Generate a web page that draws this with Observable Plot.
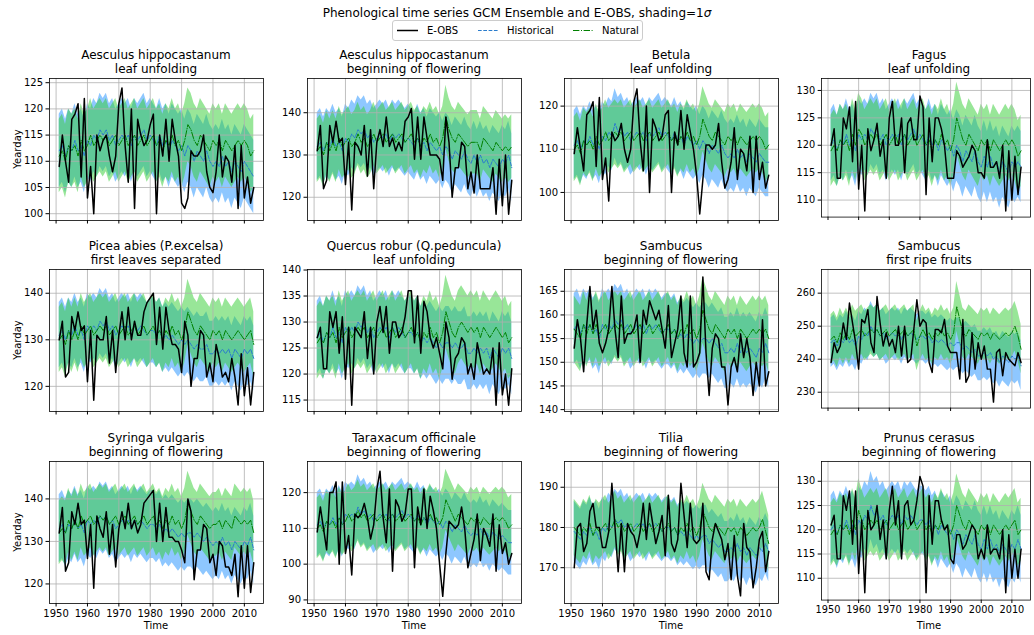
<!DOCTYPE html>
<html><head><meta charset="utf-8">
<script src="https://cdn.jsdelivr.net/npm/d3@7"></script>
<script src="https://cdn.jsdelivr.net/npm/@observablehq/plot@0.6"></script>
<style>
body{margin:0;background:#fff;font-family:"DejaVu Sans",sans-serif;}
#fig{position:relative;width:1034px;height:635px;overflow:hidden;background:#fff;}
.ptitle{position:absolute;text-align:center;font-size:12px;line-height:14px;color:#000;white-space:nowrap;}
.lab{position:absolute;font-size:10px;color:#000;white-space:nowrap;}
.panel{position:absolute;}
#suptitle{position:absolute;left:0;width:1034px;top:6px;text-align:center;font-size:12px;}
</style></head><body><div id="fig"></div>
<script>
// ---------- data ----------
const years = d3.range(1951, 2014);

const panelTitles = [
  ["Aesculus hippocastanum", "leaf unfolding"],
  ["Aesculus hippocastanum", "beginning of flowering"],
  ["Betula", "leaf unfolding"],
  ["Fagus", "leaf unfolding"],
  ["Picea abies (P.excelsa)", "first leaves separated"],
  ["Quercus robur (Q.peduncula)", "leaf unfolding"],
  ["Sambucus", "beginning of flowering"],
  ["Sambucus", "first ripe fruits"],
  ["Syringa vulgaris", "beginning of flowering"],
  ["Taraxacum officinale", "beginning of flowering"],
  ["Tilia", "beginning of flowering"],
  ["Prunus cerasus", "beginning of flowering"]
];
const legendLabels = ["E-OBS", "Historical", "Natural"];

const yTicks = [
  [100,105,110,115,120,125],[120,130,140],[100,110,120],[110,115,120,125,130],
  [120,130,140],[115,120,125,130,135,140],[140,145,150,155,160,165],[230,240,250,260],
  [120,130,140],[90,100,110,120],[170,180,190],[110,115,120,125,130]
];
const xTicks = [1950,1960,1970,1980,1990,2000,2010];

// E-OBS observed series
const eobsAesculusLeaf = [109,115,110,106,118,119,121,107,122,103, 109,100,115,112,114,115,111,108,111,121, 124,113,106,120,101,118,115,113,114,117, 119,100,115,111,118,110,118,114,111,102, 101,103,112,111,111,112,115,108,105,104, 108,115,107,111,110,106,113,101,113,103, 107,102,105];
const eobsAesculusFlower = [131,137,122,124,137,133,138,133,134,123, 133,117,133,132,130,137,125,136,122,133, 136,132,139,132,134,131,133,131,138,139, 141,129,139,129,139,134,130,130,130,129, 124,139,133,120,127,127,133,132,122,126, 121,130,122,122,122,122,127,116,129,118, 130,116,124];
const eobsBetula = [109,115,110,105,118,119,121,106,122,103, 108,98,114,112,113,116,110,107,110,121, 124,112,105,120,100,117,115,112,113,118, 119,100,114,111,119,110,118,114,110,104, 95,103,111,111,110,111,116,107,101,103, 107,115,103,110,109,105,113,100,113,103, 107,101,104];
const eobsFagus = [120,123,114,114,125,123,127,117,128,112, 120,108,123,119,121,124,118,121,114,125, 128,120,120,125,115,124,125,121,121,129, 127,111,125,117,125,125,123,120,114,114, 114,119,118,116,117,118,120,119,115,115, 114,121,116,116,117,114,120,108,119,110, 118,111,116];
const eobsPicea = [130,134,122,123,135,132,136,132,133,121, 132,117,131,130,130,135,125,132,123,131, 136,130,137,130,134,131,131,136,138,139, 140,129,137,128,137,132,129,129,128,123, 134,131,120,126,126,132,131,122,125,121, 129,126,122,123,121,126,122,116,127,118, 124,116,123];
const eobsQuercus = [127,129,121,121,132,129,132,124,131,119, 129,114,129,128,127,132,123,129,120,130, 133,128,133,124,130,130,127,128,131,136, 136,126,135,124,134,132,127,125,127,124, 121,130,127,119,123,124,127,126,120,122, 119,126,123,120,121,120,125,114,126,116, 120,114,121];
const eobsSambucusFlower = [153,159,155,148,158,166,157,161,154,152, 154,157,166,157,151,164,154,156,156,157, 160,150,161,158,163,161,159,161,157,153, 162,151,154,157,164,152,149,164,149,150, 152,168,152,143,153,156,155,149,149,141, 149,151,148,156,151,155,151,143,150,145, 159,145,148];
const eobsSambucusFruit = [239,245,242,244,251,246,257,251,245,237, 252,251,255,245,242,259,251,244,248,244, 246,242,250,241,250,239,240,249,258,250, 252,251,239,236,249,249,248,252,244,242, 242,242,234,252,233,235,248,237,245,240, 244,237,237,227,242,243,235,242,240,239, 238,242,239];
const eobsSyringa = [132,138,123,125,137,134,139,134,135,126, 134,119,136,133,131,137,127,134,124,133, 137,133,139,133,135,132,134,139,140,141, 142,130,139,130,138,131,131,130,130,128, 125,140,137,121,128,128,134,133,125,127, 122,130,129,124,124,122,127,117,129,119, 129,118,125];
const eobsTaraxacum = [109,116,110,104,120,120,123,100,123,103, 108,97,114,113,114,117,113,107,111,121, 126,113,106,121,98,118,116,112,114,121, 121,99,116,111,121,110,119,115,110,100, 91,103,112,111,110,111,116,110,99,103, 107,114,101,110,108,105,114,98,111,103, 106,100,103];
const eobsTilia = [170,180,181,174,176,184,186,180,180,175, 175,179,191,180,169,181,169,181,179,178, 175,179,186,177,186,181,176,179,183,173, 188,176,174,177,191,183,175,186,177,176, 177,186,169,167,177,181,179,177,172,176, 167,178,168,163,181,175,174,165,170,177, 179,169,174];
const eobsPrunus = [121,123,114,114,127,124,128,117,128,111, 122,107,124,120,121,125,118,122,114,124, 129,121,126,114,125,126,121,122,126,131, 129,107,127,117,126,126,122,120,121,114, 113,119,119,116,117,119,121,120,114,116, 114,121,115,116,116,114,120,107,119,110, 116,110,116];

// GCM ensemble means, historical forcing
const histAesculusLeaf = [112,113,111,113,112,114,112,113,111,114, 113,115,114,116,115,116,114,115,113,114, 115,114,115,113,115,114,115,116,114,115, 114,113,115,113,114,112,114,113,112,113, 111,113,112,110,112,111,110,112,110,109, 110,109,111,109,110,108,110,109,108,110, 109,108,107];
const histAesculusFlower = [132,133,131,133,132,134,132,133,131,134, 133,135,134,136,135,136,134,135,133,134, 135,134,135,133,135,134,135,134,133,134, 133,132,134,132,133,131,133,132,131,132, 130,132,131,129,131,130,129,131,129,128, 130,128,130,128,129,127,129,128,127,129, 128,130,127];
const histBetula = [111,112,110,112,111,113,111,112,110,113, 112,114,113,116,114,115,113,114,112,113, 114,113,114,112,114,113,114,115,113,114, 113,112,114,112,113,111,113,112,111,112, 110,112,111,109,111,110,109,111,109,108, 109,108,110,108,109,107,109,108,107,109, 108,107,107];
const histFagus = [120,121,119,121,120,122,120,121,119,122, 121,122,121,123,122,123,121,122,120,121, 122,121,122,120,122,121,122,123,121,122, 121,120,122,120,121,119,121,120,119,120, 118,120,119,117,119,118,117,119,117,116, 118,116,118,116,117,115,117,116,115,117, 116,117,116];
const histPicea = [131,132,130,132,131,133,131,132,130,133, 132,133,132,134,133,134,132,133,131,132, 133,132,133,131,133,132,133,132,131,132, 132,131,132,130,131,130,131,130,129,130, 129,130,129,128,129,128,128,129,127,127, 128,127,128,127,128,126,128,127,126,128, 127,128,126];
const histQuercus = [127,128,126,128,127,129,127,128,126,129, 128,129,128,130,129,130,128,129,127,128, 129,128,129,127,129,128,129,128,127,128, 128,127,128,126,127,126,127,126,125,126, 125,126,126,125,126,125,125,126,124,124, 125,124,125,124,125,123,125,124,123,125, 124,125,123];
const histSambucusFlower = [157,158,156,158,157,158,156,157,155,158, 157,158,157,159,158,159,157,158,156,157, 158,157,158,156,158,157,158,157,156,157, 157,156,157,155,156,155,156,155,154,155, 154,155,155,154,155,154,153,154,152,152, 153,152,154,152,153,152,153,152,151,153, 152,154,152];
const histSambucusFruit = [245,246,244,246,245,247,245,246,244,247, 246,248,247,250,248,249,247,248,246,247, 248,247,248,246,248,247,248,247,246,247, 247,246,247,245,246,245,246,245,244,245, 244,245,245,243,244,243,242,243,241,241, 242,241,242,240,241,239,241,240,239,241, 240,241,238];
const histSyringa = [133,134,132,134,133,135,133,134,132,135, 134,135,134,136,135,136,134,135,133,134, 135,134,135,133,135,134,135,134,133,134, 134,133,134,132,133,132,133,132,131,132, 131,132,132,131,132,131,130,131,130,129, 130,129,131,129,130,128,130,129,128,130, 129,131,128];
const histTaraxacum = [111,112,110,112,111,113,111,113,111,114, 113,114,113,116,114,115,113,114,112,113, 114,113,114,112,114,113,114,115,113,114, 113,112,114,112,113,111,113,112,111,112, 110,112,111,109,111,110,109,111,109,108, 109,108,110,108,109,107,109,108,107,108, 107,106,106];
const histTilia = [179,178,177,179,178,180,178,179,177,180, 179,181,180,182,181,182,180,181,179,180, 181,180,181,179,181,180,181,180,179,180, 180,179,180,178,179,178,179,178,177,178, 177,178,178,176,177,176,175,176,174,174, 175,174,176,174,175,173,175,174,173,175, 174,176,174];
const histPrunus = [120,121,119,121,120,122,120,121,119,122, 121,123,122,125,123,124,122,123,121,122, 123,122,123,121,123,122,123,122,121,122, 122,121,122,120,121,119,121,120,119,120, 118,120,119,117,119,118,117,119,117,116, 118,116,118,116,117,115,117,116,115,117, 116,118,116];

// GCM ensemble means, natural forcing only
const natAesculusLeaf = [111,112,110,113,112,113,111,114,112,113, 115,113,114,115,114,115,113,114,115,113, 114,115,113,114,115,113,114,115,113,114, 115,113,114,112,114,113,115,113,114,112, 114,117,116,114,113,115,114,113,112,114, 113,114,112,114,113,112,113,114,113,114, 113,111,112];
const natAesculusFlower = [131,132,130,133,131,133,131,134,132,133, 134,132,133,135,133,134,132,133,135,133, 134,135,133,134,135,133,134,135,133,134, 135,133,134,132,134,133,135,133,134,132, 134,139,136,134,133,135,134,133,132,133, 133,133,131,134,133,132,131,133,132,131, 132,131,132];
const natBetula = [110,111,109,112,111,112,110,113,111,112, 114,112,113,114,113,114,112,113,114,112, 113,114,112,113,114,112,113,114,112,113, 114,112,113,111,113,112,114,112,113,111, 113,117,115,113,112,114,113,112,111,113, 112,113,111,113,112,111,112,113,112,113, 112,110,111];
const natFagus = [119,120,119,121,120,121,119,122,120,123, 122,120,121,122,121,122,120,121,122,120, 121,122,120,121,122,120,121,122,120,121, 122,120,121,119,121,120,122,120,121,119, 121,125,123,121,120,122,121,120,119,121, 120,121,119,121,120,119,120,121,120,121, 120,118,119];
const natPicea = [130,131,129,132,130,132,130,133,131,132, 133,131,132,133,132,133,131,132,133,131, 132,133,131,132,133,131,132,133,131,132, 133,131,132,130,132,131,133,131,132,130, 132,136,134,132,131,133,132,131,130,132, 131,132,130,132,131,130,131,132,131,130, 131,132,129];
const natQuercus = [126,127,126,128,127,128,126,129,127,128, 129,127,128,129,128,129,127,128,129,127, 128,129,127,128,129,127,128,129,127,128, 129,127,128,126,128,127,129,127,128,126, 128,132,130,128,127,129,130,129,128,129, 128,129,127,129,128,127,128,129,128,127, 128,126,127];
const natSambucusFlower = [157,156,155,158,156,158,156,158,156,157, 158,156,157,158,157,158,156,157,158,156, 157,158,156,157,158,156,157,158,156,157, 158,156,157,155,157,156,158,156,157,155, 157,161,159,157,156,158,157,156,155,157, 156,157,155,157,156,155,156,157,156,157, 156,157,155];
const natSambucusFruit = [246,247,245,248,246,248,246,249,247,248, 249,247,248,249,248,249,247,248,249,247, 248,249,247,248,249,247,248,249,244,247, 249,247,248,246,248,247,249,247,248,246, 248,256,252,248,247,249,248,247,246,248, 247,248,246,248,247,246,247,248,247,248, 250,247,243];
const natSyringa = [132,133,132,135,133,135,133,136,134,135, 136,134,135,136,135,136,134,135,136,134, 135,136,134,135,136,134,135,136,134,135, 136,134,135,133,135,134,136,134,135,133, 135,139,137,135,134,136,135,134,133,134, 134,135,133,135,134,133,136,135,134,135, 134,135,132];
const natTaraxacum = [110,111,109,112,111,112,110,113,111,112, 114,112,113,115,113,114,112,113,114,112, 113,114,112,113,114,112,113,114,112,113, 114,112,113,111,113,112,114,112,113,111, 113,118,116,114,112,114,113,112,111,113, 112,113,111,113,112,111,112,113,112,113, 112,110,111];
const natTilia = [180,179,178,180,179,181,178,180,179,180, 181,179,180,182,180,181,179,180,181,179, 180,181,179,180,181,179,180,181,179,180, 181,179,180,178,180,179,181,179,180,178, 180,184,182,180,179,181,180,179,178,180, 179,180,178,180,179,178,179,180,179,180, 182,179,176];
const natPrunus = [119,120,119,121,120,121,119,122,120,124, 122,120,121,122,121,122,120,121,122,120, 121,122,120,121,122,120,121,122,120,121, 122,120,121,119,121,120,122,120,121,119, 121,125,123,121,120,122,121,120,119,121, 120,121,119,121,120,119,120,121,120,121, 122,119,120];

// ensemble spread (1 sigma), [historical, natural]
const sigmaHist = [7, 8, 8, 6.5, 7, 7, 7.5, 7.5, 8, 9, 7.5, 7];
const sigmaNat  = [7, 7.5, 7.5, 6.5, 7, 7, 7, 7.5, 7.5, 8.5, 7, 6.5];

// y extents of each panel
const yDomains = [[98.7,125.8],[114.5,148.1],[93.5,126.4],[106.9,132.2],[114.6,145.1],[112.8,140.1],
                  [139.6,169.6],[225.2,267.2],[115.4,148.8],[89.0,128.7],[161.1,196.4],[105.5,134.1]];

const eobsAll = [eobsAesculusLeaf,eobsAesculusFlower,eobsBetula,eobsFagus,eobsPicea,eobsQuercus,eobsSambucusFlower,eobsSambucusFruit,eobsSyringa,eobsTaraxacum,eobsTilia,eobsPrunus];
const histAll = [histAesculusLeaf,histAesculusFlower,histBetula,histFagus,histPicea,histQuercus,histSambucusFlower,histSambucusFruit,histSyringa,histTaraxacum,histTilia,histPrunus];
const natAll = [natAesculusLeaf,natAesculusFlower,natBetula,natFagus,natPicea,natQuercus,natSambucusFlower,natSambucusFruit,natSyringa,natTaraxacum,natTilia,natPrunus];

// ---------- layout ----------
const colLeft = [49, 307, 564, 822];
const rowTop = [78, 269, 461];
const FW = 214, FH = 142;
const ML = 40, MR = 4, MT = 4, MB = 22;

const BLUE_FILL = "#1e90ff", GREEN_FILL = "#32cd32";
const HIST_LINE = "#2a7ccc", NAT_LINE = "#008000";
const HIST_DASH = "3.7,1.6", NAT_DASH = "6.4,1.6,1,1.6";

const fig = document.getElementById("fig");
[eobsAll, histAll, natAll].forEach((arr) => arr.forEach((a, i) => {
  if (a.length !== years.length) throw new Error("length mismatch in panel " + i + ": " + a.length);
}));

const sup = document.createElement("div");
sup.id = "suptitle";
sup.innerHTML = "Phenological time series GCM Ensemble and E-OBS, shading=1<i>σ</i>";
fig.appendChild(sup);

// legend: absolute page coordinates via an svg that covers the whole figure width
const ns = "http://www.w3.org/2000/svg";
const lsvg = document.createElementNS(ns, "svg");
lsvg.setAttribute("width", 1034);
lsvg.setAttribute("height", 46);
lsvg.style.position = "absolute";
lsvg.style.left = "0px";
lsvg.style.top = "0px";
lsvg.style.fontFamily = "DejaVu Sans";
lsvg.style.fontSize = "10px";
lsvg.innerHTML = `<rect x="392.5" y="20.5" width="250" height="20" rx="2.5" fill="white" stroke="#cccccc" stroke-width="1"/>`;
const legendItems = [
  {x1: 397, label: legendLabels[0], stroke: "black", w: 1.5, dash: null, tx: 427},
  {x1: 478, label: legendLabels[1], stroke: HIST_LINE, w: 1, dash: HIST_DASH, tx: 507},
  {x1: 573, label: legendLabels[2], stroke: NAT_LINE, w: 1, dash: NAT_DASH, tx: 602}
];
legendItems.forEach(it => {
  const ln = document.createElementNS(ns, "line");
  ln.setAttribute("x1", it.x1); ln.setAttribute("x2", it.x1 + 21);
  ln.setAttribute("y1", 30.5); ln.setAttribute("y2", 30.5);
  ln.setAttribute("stroke", it.stroke); ln.setAttribute("stroke-width", it.w);
  if (it.dash) ln.setAttribute("stroke-dasharray", it.dash);
  lsvg.appendChild(ln);
  const tx = document.createElementNS(ns, "text");
  tx.setAttribute("x", it.tx); tx.setAttribute("y", 34);
  tx.setAttribute("text-anchor", "start");
  tx.textContent = it.label;
  lsvg.appendChild(tx);
});
fig.appendChild(lsvg);

for (let i = 0; i < 12; i++) {
  const r = Math.floor(i / 4), c = i % 4;
  const left = colLeft[c], top = rowTop[r];
  const sh = sigmaHist[i], sn = sigmaNat[i];
  const rows = years.map((y, k) => ({
    year: y, eobs: eobsAll[i][k], hist: histAll[i][k], nat: natAll[i][k]
  }));
  const bottom = r === 2;
  const chart = Plot.plot({
    width: FW + ML + MR, height: FH + MT + MB,
    marginLeft: ML, marginRight: MR, marginTop: MT, marginBottom: MB,
    style: {fontFamily: "DejaVu Sans", fontSize: "10px", background: "transparent", overflow: "visible", color: "black"},
    x: {domain: [1947.9, 2016.1], label: null},
    y: {domain: yDomains[i], label: null},
    marks: [
      Plot.areaY(rows, {x: "year", y1: d => d.hist - sh, y2: d => d.hist + sh, fill: BLUE_FILL, fillOpacity: 0.5}),
      Plot.areaY(rows, {x: "year", y1: d => d.nat - sn, y2: d => d.nat + sn, fill: GREEN_FILL, fillOpacity: 0.5}),
      Plot.gridX(xTicks, {stroke: "#b0b0b0", strokeOpacity: 1, strokeWidth: 0.8}),
      Plot.gridY(yTicks[i], {stroke: "#b0b0b0", strokeOpacity: 1, strokeWidth: 0.8}),
      Plot.line(rows, {x: "year", y: "hist", stroke: HIST_LINE, strokeWidth: 1, strokeDasharray: HIST_DASH}),
      Plot.line(rows, {x: "year", y: "nat", stroke: NAT_LINE, strokeWidth: 1, strokeDasharray: NAT_DASH}),
      Plot.line(rows, {x: "year", y: "eobs", stroke: "black", strokeWidth: 1.5}),
      Plot.axisY(yTicks[i], {tickSize: 3.5, tickPadding: 3, label: null, fontSize: 10}),
      Plot.axisX(xTicks, {tickSize: 3.5, tickPadding: 3, label: null, fontSize: 10,
        tickFormat: bottom ? (d => String(d)) : (() => "")}),
      Plot.frame({stroke: "black", strokeWidth: 0.8})
    ]
  });
  const wrap = document.createElement("div");
  wrap.className = "panel";
  wrap.style.left = (left - ML) + "px";
  wrap.style.top = (top - MT) + "px";
  wrap.appendChild(chart);
  fig.appendChild(wrap);

  const t = document.createElement("div");
  t.className = "ptitle";
  t.style.left = (left - 30) + "px";
  t.style.width = (FW + 60) + "px";
  t.style.top = (top - 30) + "px";
  t.innerHTML = panelTitles[i][0] + "<br>" + panelTitles[i][1];
  fig.appendChild(t);

  if (c === 0) {
    const yl = document.createElement("div");
    yl.className = "lab";
    yl.textContent = "Yearday";
    yl.style.left = "17px";
    yl.style.top = (top + FH / 2) + "px";
    yl.style.transform = "translate(-50%,-50%) rotate(-90deg)";
    fig.appendChild(yl);
  }
  if (bottom) {
    const xl = document.createElement("div");
    xl.className = "lab";
    xl.textContent = "Time";
    xl.style.left = (left + FW / 2) + "px";
    xl.style.top = "625px";
    xl.style.transform = "translate(-50%,-50%)";
    fig.appendChild(xl);
  }
}
</script></body></html>
